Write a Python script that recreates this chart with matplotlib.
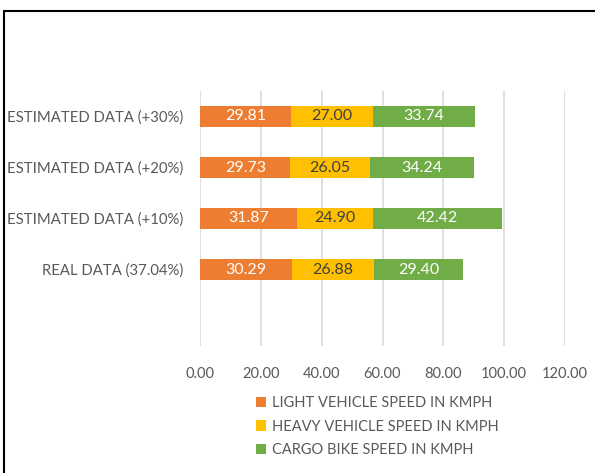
import matplotlib.pyplot as plt
from matplotlib.patches import Rectangle

categories = ['REAL DATA (37.04%)', 'ESTIMATED DATA (+10%)',
              'ESTIMATED DATA (+20%)', 'ESTIMATED DATA (+30%)']
light = [30.29, 31.87, 29.73, 29.81]
heavy = [26.88, 24.90, 26.05, 27.00]
cargo = [29.40, 42.42, 34.24, 33.74]
series = ['LIGHT VEHICLE SPEED IN KMPH', 'HEAVY VEHICLE SPEED IN KMPH',
          'CARGO BIKE SPEED IN KMPH']
colors = ['#ED7D31', '#FFC000', '#70AD47']
label_colors = ['white', '#404040', 'white']
xticks = [0, 20, 40, 60, 80, 100, 120]

plt.rcParams['font.family'] = ['Lato', 'DejaVu Sans']

fig = plt.figure(figsize=(5.95, 4.73), dpi=100)
ax = fig.add_axes([200 / 595, 1 - 346 / 473, 365 / 595, 255 / 473])

y = list(range(len(categories)))
left = [0] * len(categories)
handles = []
for vals, c, lc, name in zip([light, heavy, cargo], colors, label_colors, series):
    bars = ax.barh(y, vals, left=left, height=0.4, color=c, label=name, zorder=3)
    handles.append(bars)
    for yi, v, l in zip(y, vals, left):
        ax.text(l + v / 2, yi, f'{v:.2f}', ha='center', va='center',
                color=lc, fontsize=11.5, zorder=4)
    left = [a + b for a, b in zip(left, vals)]

ax.set_xlim(0, 120)
ax.set_ylim(-1.5, 3.5)
ax.set_xticks(xticks)
ax.set_xticklabels([f'{t:.2f}' for t in xticks], color='#595959', fontsize=10.5)
ax.set_yticks(y)
ax.set_yticklabels(categories, color='#595959', fontsize=10.7)
ax.tick_params(axis='x', length=0, pad=15)
ax.tick_params(axis='y', length=0, pad=12)
ax.grid(axis='x', color='#D9D9D9', linewidth=1.2, zorder=0)
for s in ax.spines.values():
    s.set_visible(False)

fig.legend(handles=handles, loc='upper left', bbox_to_anchor=(243 / 595, 1 - 383 / 473),
           frameon=False, fontsize=10.5, handlelength=0.7, handleheight=0.7,
           handletextpad=0.4, labelspacing=0.65, labelcolor='#595959')

fig.patches.append(Rectangle((4 / 595, -0.1), 1.0, 1 - 11 / 473 + 0.1,
                             transform=fig.transFigure, fill=False,
                             edgecolor='black', linewidth=1.5))

fig.savefig('out.png', dpi=100)
